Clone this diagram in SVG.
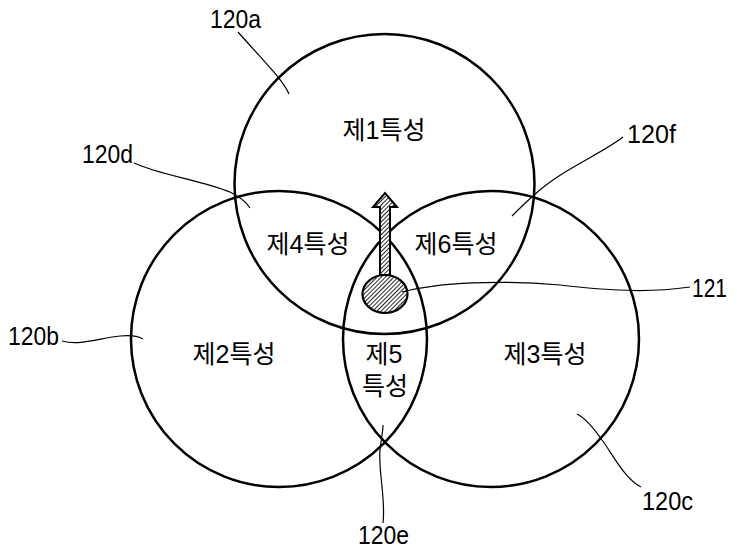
<svg xmlns="http://www.w3.org/2000/svg" width="737" height="554" viewBox="0 0 737 554">
<defs>
<pattern id="hatch" patternUnits="userSpaceOnUse" width="3" height="3" patternTransform="rotate(45)">
<rect width="3" height="3" fill="#ffffff"/>
<line x1="0" y1="0" x2="0" y2="3" stroke="#000" stroke-width="1.7"/>
</pattern>
<style>
.circ{fill:none;stroke:#000;stroke-width:2.5}
.lead{fill:none;stroke:#000;stroke-width:1.2}
.kr{font-family:"Liberation Sans","Noto Sans CJK KR",sans-serif;font-size:25px;fill:#000;text-anchor:middle}
.lbl{font-family:"Liberation Sans",sans-serif;font-size:26px;fill:#000}
</style>
</defs>
<rect width="737" height="554" fill="#ffffff"/>
<g id="circle-120a"><circle class="circ" cx="384.5" cy="184" r="150"/></g>
<g id="circle-120b"><circle class="circ" cx="279" cy="339" r="148"/></g>
<g id="circle-120c"><circle class="circ" cx="491" cy="339" r="148"/></g>
<g id="object-121">
<path d="M380,275 L380,207 L373,207 L385,193 L397,207 L390,207 L390,275 Z" fill="url(#hatch)" stroke="#000" stroke-width="2"/>
<ellipse cx="385" cy="294" rx="22.5" ry="19" fill="url(#hatch)" stroke="#000" stroke-width="2.2"/>
</g>
<g id="regions">
<text class="kr" x="384" y="139">제1특성</text>
<text class="kr" x="308" y="253">제4특성</text>
<text class="kr" x="456" y="253">제6특성</text>
<text class="kr" x="234" y="363">제2특성</text>
<text class="kr" x="545" y="363">제3특성</text>
<text class="kr" x="384" y="363">제5</text>
<text class="kr" x="385" y="395">특성</text>
</g>
<g id="connectors">
<path class="lead" d="M238,32 C258,55 282,78 289,94"/>
<path class="lead" d="M134,163 C160,175 200,180 230,192 C240,197 247,203 250,208"/>
<path class="lead" d="M623,137 C600,155 560,170 533,196 C525,203 518,210 512,216"/>
<path class="lead" d="M402,292 C440,282 500,280 560,285 C620,292 655,292 690,287"/>
<path class="lead" d="M62,341 C80,346 100,338 120,336 C130,335 138,336 143,339"/>
<path class="lead" d="M383,523 C386,500 378,470 380,450 C381,440 383,432 383,425"/>
<path class="lead" d="M641,487 C625,480 610,450 602,440 C595,430 585,418 577,414"/>
</g>
<g id="labels">
<text class="lbl" x="210" y="28" textLength="51" lengthAdjust="spacingAndGlyphs">120a</text>
<text class="lbl" x="82" y="163" textLength="51" lengthAdjust="spacingAndGlyphs">120d</text>
<text class="lbl" x="627" y="143" textLength="49" lengthAdjust="spacingAndGlyphs">120f</text>
<text class="lbl" x="692" y="297" textLength="35" lengthAdjust="spacingAndGlyphs">121</text>
<text class="lbl" x="8" y="345" textLength="51" lengthAdjust="spacingAndGlyphs">120b</text>
<text class="lbl" x="358" y="544" textLength="51" lengthAdjust="spacingAndGlyphs">120e</text>
<text class="lbl" x="642" y="510" textLength="51" lengthAdjust="spacingAndGlyphs">120c</text>
</g>
</svg>
